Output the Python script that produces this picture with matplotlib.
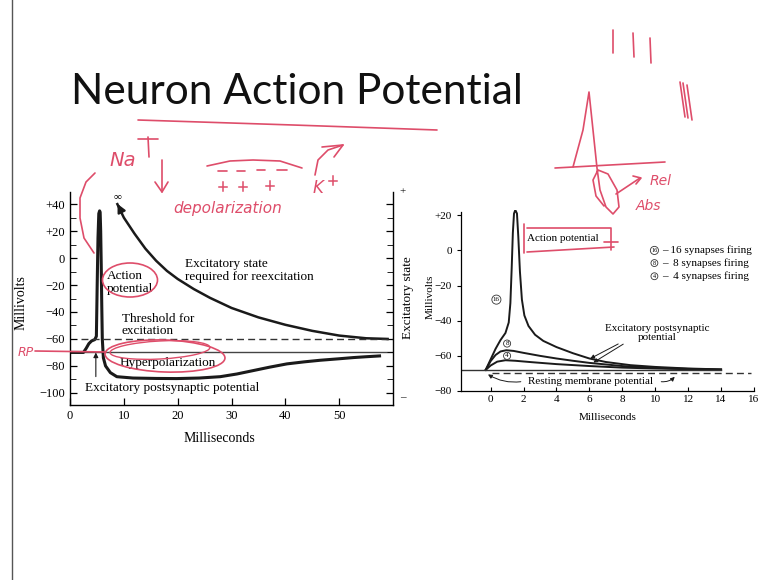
import matplotlib
matplotlib.use('Agg')
import matplotlib.pyplot as plt
from matplotlib.patches import Ellipse

plt.rcParams['font.family'] = ['Liberation Serif', 'DejaVu Serif']

#------------------------------------------------------------------------------
# left figure: a single action potential (ms, mV)
#------------------------------------------------------------------------------
ap_ms = [0, 2.5, 3.0, 3.5, 4.0, 4.6, 4.9, 5.05, 5.2, 5.35, 5.5, 5.6, 5.7, 5.8,
         5.9, 6.0, 6.2, 6.6, 7.5, 8.7, 11.7, 16, 19.8, 24, 27.9, 31, 34,
         37, 40.3, 43.5, 46.5, 50, 52.7, 55, 57.5]
ap_mv = [-70, -70, -67, -63.5, -61.5, -60.5, -58, -20, 15, 33, 35, 34, 20, -5,
         -35, -60, -74, -80, -85, -88, -89, -89.3, -89.4, -89, -88, -86, -83.5,
         -81, -78.5, -77, -75.8, -74.7, -73.8, -73.2, -72.6]

exc_ms = [8.8, 10, 12, 14, 16, 18, 20, 23, 26, 30, 35, 40, 45, 50, 55, 59]
exc_mv = [40, 30, 18, 7, -2, -9.5, -15.5, -23, -29.5, -37, -44, -49.5, -54,
          -57.5, -59.5, -60]

rest_left = -70
threshold_left = -60
left_yticks = [40, 20, 0, -20, -40, -60, -80, -100]
left_ylabels = ['+40', '+20', '0', '\u221220', '\u221240', '\u221260',
                '\u221280', '\u2212100']
left_xticks = [0, 10, 20, 30, 40, 50]

#------------------------------------------------------------------------------
# right figure: summation of EPSPs (ms, mV)
#------------------------------------------------------------------------------
s16_ms = [-0.3, 0.0, 0.3, 0.6, 0.9, 1.1, 1.2, 1.28, 1.35, 1.42, 1.5, 1.6, 1.68,
          1.78, 1.9, 2.05, 2.3, 2.7, 3.2, 4.0, 5.0, 6.0, 7.0, 8.5, 10, 12, 14]
s16_mv = [-68, -62, -56, -51, -47, -41, -30, -10, 10, 21, 23, 21, 8,
          -12, -28, -37, -43, -48, -51.5, -55, -58.5, -61.5, -63.5, -65.3,
          -66.3, -67.2, -67.7]
s8_ms = [-0.3, 0, 0.3, 0.6, 0.95, 1.4, 2, 3, 4, 5, 6, 8, 10, 12, 14]
s8_mv = [-68, -63, -59.5, -57.5, -56.8, -57.2, -58.3, -60, -61.5, -62.8,
         -64, -65.8, -66.8, -67.4, -67.8]
s4_ms = [-0.3, 0, 0.4, 0.9, 1.5, 2.5, 4, 6, 8, 10, 12, 14]
s4_mv = [-68, -65.5, -63.3, -62.5, -62.8, -63.6, -64.7, -65.8, -66.7, -67.2,
         -67.6, -67.9]

rest_right = -68
dash_right = -70
right_yticks = [20, 0, -20, -40, -60, -80]
right_ylabels = ['+20', '0', '\u221220', '\u221240', '\u221260', '\u221280']
right_xticks = [0, 2, 4, 6, 8, 10, 12, 14, 16]
legend_nums = ['16', '8', '4']
legend_text = ['\u2013 16 synapses firing', '\u2013  8 synapses firing',
               '\u2013  4 synapses firing']

#------------------------------------------------------------------------------
# handwritten red marks on the slide (pixel positions)
#------------------------------------------------------------------------------
RED = '#de4d6a'
strokes = [
    [(138, 120), (200, 122), (293, 125), (380, 128), (437, 130)],   # title underline
    [(148, 137), (149, 157)], [(138, 139), (158, 139)],             # + of Na
    [(162, 160), (162, 192)], [(155, 182), (162, 192), (168, 182)], # down arrow
    [(207, 166), (230, 161), (253, 160), (280, 161), (302, 168)],   # overline
    [(218, 171), (227, 171)], [(237, 171), (245, 171)],
    [(257, 170), (265, 170)], [(277, 170), (287, 170)],
    [(315, 175), (318, 160), (328, 150), (343, 145)],               # K+ arrow
    [(322, 147), (343, 145), (334, 157)],
    [(95, 173), (86, 182), (80, 198), (80, 218), (84, 238), (94, 253)],
    [(35, 351), (106, 352)],                                        # RP line
    [(524, 224), (524, 253)], [(527, 228), (611, 228), (611, 250)],  # box
    [(527, 252), (614, 247)], [(604, 242), (618, 242)],
    [(613, 30), (613, 53)], [(633, 33), (634, 57)], [(650, 38), (651, 63)],
    [(680, 82), (685, 117)], [(683, 83), (688, 118)], [(687, 85), (692, 120)],
    [(555, 168), (665, 162)],                                       # sketch baseline
    [(573, 167), (583, 130), (589, 92), (593, 130), (597, 168), (600, 190),
     (606, 207), (613, 214), (619, 207), (617, 190), (608, 174), (598, 170),
     (593, 180), (596, 196), (604, 206)],
    [(616, 194), (640, 178)], [(633, 176), (641, 178), (636, 184)],
]
plus_marks = [(223, 187), (243, 187), (270, 186)]
red_words = [('Na', 123, 160, 14), ('depolarization', 228, 208, 11),
             ('K', 318, 188, 12), ('RP', 26, 352, 9),
             ('Rel', 661, 181, 10), ('Abs', 648, 206, 10)]

#------------------------------------------------------------------------------
fig = plt.figure(figsize=(7.67, 5.80), dpi=100)
fig.patch.set_facecolor('white')

fig.text(71 / 767, 1 - 92 / 580, 'Neuron Action Potential',
         family=['Lato', 'DejaVu Sans'], fontsize=30.5, va='center', ha='left',
         color='#111111')

# left chart
ax1 = fig.add_axes([70 / 767, 1 - 405 / 580, 323 / 767, 213 / 580])
ax1.plot(ap_ms, ap_mv, color='#1a1a1a', lw=2.2, solid_joinstyle='round')
ax1.plot(exc_ms, exc_mv, color='#1a1a1a', lw=1.8)
ax1.annotate('', xy=(8.6, 42), xytext=(9.6, 34),
             arrowprops=dict(arrowstyle='-|>', color='#1a1a1a', lw=1.6,
                             mutation_scale=12))
ax1.axhline(rest_left, xmin=0, xmax=1, color='#444444', lw=1.0, zorder=0)
ax1.plot([2, 60], [threshold_left, threshold_left], color='#333333', lw=1.0,
         ls=(0, (5, 3)))
ax1.annotate('', xy=(4.8, -68), xytext=(4.8, -90),
             arrowprops=dict(arrowstyle='-|>', color='#1a1a1a', lw=0.8,
                             mutation_scale=7))
ax1.text(8.9, 46, '\u221e', ha='center', va='center', fontsize=8)
ax1.text(6.9, -18, 'Action\npotential', fontsize=9.5, va='center',
         linespacing=1.1)
ax1.text(21.4, -9.5, 'Excitatory state\nrequired for reexcitation', fontsize=9.5,
         va='center', linespacing=1.1)
ax1.text(9.6, -49.5, 'Threshold for\nexcitation', fontsize=9.5, va='center',
         linespacing=1.05)
ax1.text(9.3, -78, 'Hyperpolarization', fontsize=9.5, va='center')
ax1.text(19, -96.5, 'Excitatory postsynaptic potential', fontsize=9.5,
         ha='center', va='center')
ax1.set_xlim(0, 60)
ax1.set_ylim(-109, 49)
ax1.spines['top'].set_visible(False)
ax1.set_yticks(left_yticks)
ax1.set_yticklabels(left_ylabels)
ax1.set_yticks(range(-100, 50, 10), minor=True)
ax1.set_xticks(left_xticks)
ax1.tick_params(axis='both', direction='in', labelsize=9, length=5, width=0.9,
                right=True, which='major')
ax1.tick_params(axis='y', which='minor', direction='in', length=4, right=True)
ax1.set_xlabel('Milliseconds', fontsize=10)
ax1.xaxis.set_label_coords(0.464, -0.125)
ax1.set_ylabel('Millivolts', fontsize=10)
ax1.yaxis.set_label_coords(-0.133, 0.48)
ax1.text(1.045, 0.505, 'Excitatory state', transform=ax1.transAxes, rotation=90,
         ha='center', va='center', fontsize=9.5)
ax1.text(1.03, 1.0, '+', transform=ax1.transAxes, ha='center', va='center',
         fontsize=8)
ax1.text(1.03, 0.035, '\u2013', transform=ax1.transAxes, ha='center',
         va='center', fontsize=8)
for sp in ax1.spines.values():
    sp.set_linewidth(1.0)

# right chart
ax2 = fig.add_axes([461 / 767, 1 - 391 / 580, 293 / 767, 181 / 580])
for ms, mv in [(s16_ms, s16_mv), (s8_ms, s8_mv), (s4_ms, s4_mv)]:
    ax2.plot(ms, mv, color='#1a1a1a', lw=1.4)
ax2.plot([-1.8, 14], [rest_right, rest_right], color='#333333', lw=1.0)
ax2.plot([0.1, 15.8], [dash_right, dash_right], color='#333333', lw=1.0,
         ls=(0, (5, 3)))
circ = dict(boxstyle='circle,pad=0.15', fc='white', ec='#333333', lw=0.6)
ax2.text(0.35, -28, '16', fontsize=5, ha='center', va='center', bbox=circ)
ax2.text(1.0, -53, '8', fontsize=5, ha='center', va='center', bbox=circ)
ax2.text(1.0, -60, '4', fontsize=5, ha='center', va='center', bbox=circ)
ax2.text(2.2, 7, 'Action potential', fontsize=8, va='center')
for i, (num, txt) in enumerate(zip(legend_nums, legend_text)):
    yy = [0, -7.2, -14.7][i]
    ax2.text(9.95, yy, num, fontsize=4.5, ha='center', va='center', bbox=circ)
    ax2.text(10.4, yy, txt, fontsize=8, va='center')
ax2.text(10.1, -47, 'Excitatory postsynaptic\npotential', fontsize=8,
         ha='center', va='center', linespacing=1.1)
ax2.annotate('', xy=(5.9, -62.3), xytext=(7.9, -52.5),
             arrowprops=dict(arrowstyle='-|>', color='#1a1a1a', lw=0.7,
                             mutation_scale=6))
ax2.annotate('', xy=(6.1, -64.6), xytext=(8.2, -52.5),
             arrowprops=dict(arrowstyle='-|>', color='#1a1a1a', lw=0.7,
                             mutation_scale=6))
ax2.text(6.1, -74.7, 'Resting membrane potential', fontsize=8, ha='center',
         va='center')
ax2.annotate('', xy=(-0.3, -69.7), xytext=(2.0, -74.5),
             arrowprops=dict(arrowstyle='-|>', color='#1a1a1a', lw=0.7,
                             mutation_scale=6,
                             connectionstyle='arc3,rad=-0.2'))
ax2.annotate('', xy=(11.3, -70.8), xytext=(10.2, -74.5),
             arrowprops=dict(arrowstyle='-|>', color='#1a1a1a', lw=0.7,
                             mutation_scale=6,
                             connectionstyle='arc3,rad=0.3'))
ax2.set_xlim(-1.8, 16)
ax2.set_ylim(-80, 23)
ax2.spines['top'].set_visible(False)
ax2.spines['right'].set_visible(False)
ax2.spines['left'].set_bounds(-80, 22)
ax2.set_yticks(right_yticks)
ax2.set_yticklabels(right_ylabels)
ax2.set_xticks(right_xticks)
ax2.tick_params(axis='y', labelsize=8, length=3, width=0.8)
ax2.tick_params(axis='x', labelsize=8, length=3, width=0.8, direction='in',
                pad=3)
ax2.set_xlabel('Milliseconds', fontsize=8)
ax2.xaxis.set_label_coords(0.50, -0.12)
ax2.set_ylabel('Millivolts', fontsize=8)
ax2.yaxis.set_label_coords(-0.09, 0.52)
for sp in ax2.spines.values():
    sp.set_linewidth(0.9)

# handwriting overlay
ov = fig.add_axes([0, 0, 1, 1], zorder=10)
ov.set_xlim(0, 767)
ov.set_ylim(580, 0)
ov.axis('off')
ov.patch.set_alpha(0)
ov.plot([12, 12], [0, 580], color='#555555', lw=1.0)
for s in strokes:
    xs, ys = zip(*s)
    ov.plot(xs, ys, color=RED, lw=1.2, solid_capstyle='round',
            solid_joinstyle='round')
for (x, y) in plus_marks + [(333, 181)]:
    ov.plot([x - 4, x + 4], [y, y], color=RED, lw=1.1)
    ov.plot([x, x], [y - 5, y + 4], color=RED, lw=1.1)
for word, x, y, size in red_words:
    ov.text(x, y, word, color=RED, fontsize=size, ha='center', va='center',
            family=['DejaVu Sans'], style='italic')
ov.add_patch(Ellipse((130, 280), 55, 34, fill=False, ec=RED, lw=1.2))
ov.add_patch(Ellipse((165, 356), 120, 32, angle=2, fill=False, ec=RED, lw=1.2))
ov.add_patch(Ellipse((160, 350), 100, 18, angle=-3, fill=False, ec=RED, lw=1.0))

fig.savefig('out.png', dpi=100)
